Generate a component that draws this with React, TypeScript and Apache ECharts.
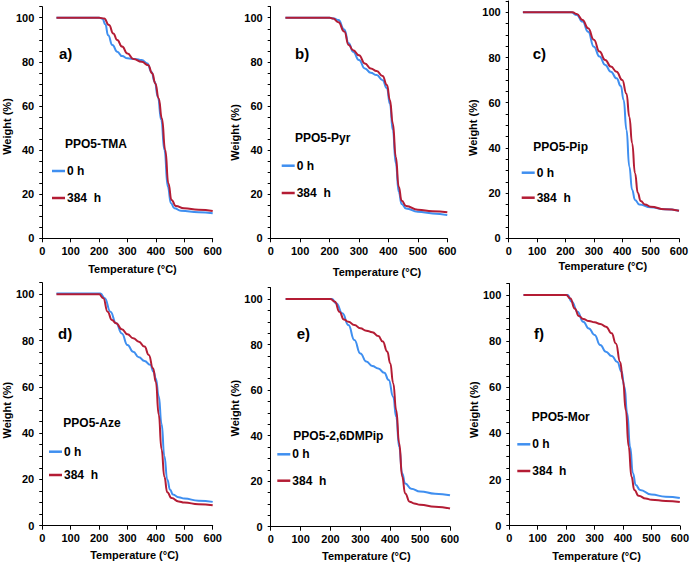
import React, { useEffect, useRef } from "react";
import * as echarts from "echarts";

// ---------- DATA (temperature °C, weight %) ----------
const X_TICKS = [0, 100, 200, 300, 400, 500, 600];
const Y_TICKS = [0, 20, 40, 60, 80, 100];
const SERIES_NAMES = ["0 h", "384  h"];
const PANEL_LETTERS = ["a)", "b)", "c)", "d)", "e)", "f)"];
const SAMPLE_NAMES = ["PPO5-TMA", "PPO5-Pyr", "PPO5-Pip", "PPO5-Aze", "PPO5-2,6DMPip", "PPO5-Mor"];

// a) PPO5-TMA
const T_A0 = [50, 200, 212, 222, 232, 247, 264, 281, 300, 327, 350, 370, 384, 396, 407, 419, 430, 442, 453, 465, 488, 550, 600];
const W_A0 = [100, 100, 99.5, 97, 92, 87.6, 84.6, 82.6, 81.6, 81.3, 80.8, 79.3, 75.5, 71, 64, 53.6, 40, 23.4, 15.9, 13.6, 12.5, 11.8, 11.4];
const T_A384 = [50, 200, 218, 235, 250, 264, 281, 300, 321, 350, 373, 387, 398, 410, 421, 433, 444, 455, 470, 499, 550, 600];
const W_A384 = [100, 100, 99.6, 96.7, 92.9, 89.9, 86.9, 83.8, 81.3, 80, 78.5, 74.8, 70.2, 63.4, 54.4, 40, 24.9, 17.4, 14.7, 13.6, 13, 12.4];

// b) PPO5-Pyr
const T_B0 = [50, 200, 215, 230, 250, 265, 280, 300, 320, 340, 360, 380, 395, 405, 415, 425, 435, 445, 460, 500, 550, 600];
const W_B0 = [100, 100, 99.6, 99, 94.7, 88.4, 84.6, 80.8, 77, 75, 74, 71.7, 68, 61, 49, 34, 21, 15.5, 13.5, 12, 11.3, 10.5];
const T_B384 = [50, 200, 212, 230, 250, 265, 280, 300, 320, 340, 360, 380, 395, 405, 415, 425, 435, 445, 460, 500, 550, 600];
const W_B384 = [100, 100, 99.6, 98, 93.7, 87.6, 85.3, 83, 79.3, 77, 75.8, 73.6, 69.5, 62.7, 52, 37, 23.4, 17, 14.6, 13, 12.3, 11.8];

// c) PPO5-Pip
const T_C0 = [50, 220, 240, 260, 280, 300, 320, 340, 360, 380, 395, 405, 415, 425, 435, 445, 460, 500, 550, 600];
const W_C0 = [100, 100, 98.8, 95.9, 91.4, 84.8, 80.4, 76.7, 73.7, 70.8, 67.4, 61.2, 48, 31.7, 21.4, 17, 15, 13.7, 12.8, 12.2];
const T_C384 = [50, 225, 240, 260, 280, 300, 320, 340, 360, 380, 400, 415, 425, 435, 445, 455, 465, 480, 500, 550, 600];
const W_C384 = [100, 100, 99.2, 96.6, 92.9, 87.8, 82.6, 78.9, 76, 73.7, 70, 64, 53.8, 42, 28.8, 20, 16.5, 15, 14, 12.8, 12.2];

// d) PPO5-Aze
const T_D0 = [50, 205, 220, 240, 260, 280, 300, 320, 340, 360, 380, 392, 400, 410, 420, 430, 440, 450, 460, 480, 500, 550, 600];
const W_D0 = [100.3, 100.3, 98.3, 92.5, 87.5, 83.1, 78.1, 75.2, 72.8, 71.2, 69.5, 66.5, 63.5, 56, 44, 30, 20, 15.5, 13.5, 12.3, 11.7, 10.8, 10.3];
const T_D384 = [50, 200, 215, 230, 245, 260, 280, 300, 320, 340, 360, 375, 390, 400, 410, 420, 430, 440, 455, 480, 500, 550, 600];
const W_D384 = [100, 100, 98.3, 92.5, 88.9, 87.5, 84.9, 82.7, 81, 79.5, 77.4, 73.8, 68, 62, 48, 33, 21, 14.5, 12, 10.5, 10, 9.3, 8.8];

// e) PPO5-2,6DMPip
const T_E0 = [50, 205, 220, 240, 260, 280, 300, 320, 340, 360, 380, 395, 410, 420, 430, 440, 450, 470, 500, 550, 600];
const W_E0 = [100, 100, 98, 93.7, 88.6, 82, 76.1, 72.5, 70.6, 69.5, 67.6, 64.4, 57, 48.3, 35, 23.4, 19, 16.7, 15.5, 14.5, 13.8];
const T_E384 = [50, 200, 215, 230, 245, 260, 280, 300, 320, 340, 360, 375, 390, 400, 410, 420, 430, 440, 450, 465, 480, 500, 550, 600];
const W_E384 = [100, 100, 98.8, 94.4, 91, 90, 88.6, 87.1, 86.1, 85.4, 83.7, 81.3, 76.9, 71.8, 63, 51.2, 36.6, 22, 14.6, 11, 10.2, 9.6, 8.8, 8.0];

// f) PPO5-Mor
const T_F0 = [50, 205, 220, 240, 260, 280, 300, 320, 340, 360, 380, 395, 405, 415, 425, 435, 445, 460, 500, 550, 600];
const W_F0 = [100, 100, 97.1, 92.8, 88.4, 85.5, 82.7, 78.3, 75.4, 73.6, 71, 66.8, 60.3, 48.7, 34.3, 22.7, 17.6, 15.5, 13.5, 12.6, 12.0];
const T_F384 = [50, 200, 215, 230, 245, 260, 280, 300, 320, 340, 360, 375, 390, 400, 410, 420, 430, 440, 455, 480, 500, 550, 600];
const W_F384 = [100, 100, 98.5, 94.2, 90.9, 89.6, 88.7, 88.2, 87.4, 86.3, 83.4, 79, 71, 63, 50, 34.3, 21.2, 15.5, 13, 11.8, 11.3, 10.7, 10.3];

const CURVES_0 = [[T_A0, W_A0], [T_B0, W_B0], [T_C0, W_C0], [T_D0, W_D0], [T_E0, W_E0], [T_F0, W_F0]];
const CURVES_384 = [[T_A384, W_A384], [T_B384, W_B384], [T_C384, W_C384], [T_D384, W_D384], [T_E384, W_E384], [T_F384, W_F384]];

// ---------- LAYOUT / STYLE ----------
const FONT = '"Liberation Sans", Arial, sans-serif';
const BLUE = "#3f8ff0";
const RED = "#b41c34";

// plot box (px): left, top (y=105), right (x=600), bottom (y=0)
const LAYOUT = [
  { l: 38, t: 6.7, r: 212.7, b: 238.3, yGap: 22, ySh: 4, xGap: 25, xSh: 5, letter: [59, 53], sample: [65, 144], leg: [52, 171, 198] },
  { l: 270.7, t: 6.7, r: 447.3, b: 238.3, yGap: 24, ySh: 10, xGap: 28, xSh: 18, letter: [295, 53], sample: [295, 138], leg: [281.7, 165.7, 193] },
  { l: 508.7, t: 1.0, r: 679, b: 238.3, yGap: 27, ySh: 8, xGap: 22, xSh: 9, letter: [532.7, 53], sample: [533.3, 146.7], leg: [521.7, 172.7, 197.7] },
  { l: 38.3, t: 282.7, r: 212.7, b: 525.7, yGap: 27, ySh: 6, xGap: 24, xSh: 7, letter: [58, 333], sample: [63.3, 423.3], leg: [49, 451.7, 475] },
  { l: 270.7, t: 287.6, r: 450, b: 526.7, yGap: 22, ySh: 1, xGap: 24, xSh: 6, letter: [296.7, 333], sample: [293.3, 436], leg: [277.3, 454.3, 480.7] },
  { l: 509.3, t: 283.5, r: 681, b: 525.7, yGap: 29, ySh: 5, xGap: 25, xSh: 2, letter: [534, 333], sample: [531.7, 417.3], leg: [517.3, 444.3, 471] },
];

function buildOption() {
  const grid: any[] = [];
  const xAxis: any[] = [];
  const yAxis: any[] = [];
  const series: any[] = [];
  const legend: any[] = [];
  const graphic: any[] = [];
  const axisText = { color: "#000", fontSize: 11, fontWeight: "bold", fontFamily: FONT };

  LAYOUT.forEach((p, i) => {
    grid.push({ left: p.l, top: p.t, width: p.r - p.l, height: p.b - p.t, containLabel: false });
    xAxis.push({
      type: "value",
      gridIndex: i,
      min: X_TICKS[0],
      max: X_TICKS[X_TICKS.length - 1],
      interval: X_TICKS[1] - X_TICKS[0],
      name: "Temperature (°C)",
      nameLocation: "middle",
      nameGap: p.xGap,
      nameTextStyle: { ...axisText, padding: [0, 0, 0, p.xSh * 2] },
      axisLine: { show: true, onZero: false, lineStyle: { color: "#000", width: 1 } },
      axisTick: { show: true, length: 4, lineStyle: { color: "#000" } },
      axisLabel: { ...axisText, margin: 7 },
      splitLine: { show: false },
    });
    yAxis.push({
      type: "value",
      gridIndex: i,
      min: 0,
      max: 105,
      interval: 5,
      name: "Weight (%)",
      nameLocation: "middle",
      nameRotate: 90,
      nameGap: p.yGap,
      nameTextStyle: { ...axisText, padding: [0, p.ySh * 2, 0, 0] },
      axisLine: { show: true, onZero: false, lineStyle: { color: "#000", width: 1 } },
      axisTick: { show: true, length: 3, lineStyle: { color: "#000" } },
      axisLabel: {
        ...axisText,
        margin: 8,
        formatter: (v: number) => (Y_TICKS.indexOf(v) >= 0 ? String(v) : ""),
      },
      splitLine: { show: false },
    });
    const [t0, w0] = CURVES_0[i];
    const [t1, w1] = CURVES_384[i];
    const common = {
      type: "line",
      xAxisIndex: i,
      yAxisIndex: i,
      showSymbol: false,
      symbol: "none",
      smooth: 0.5,
      smoothMonotone: "x",
      silent: true,
    };
    series.push({ ...common, name: SERIES_NAMES[0], data: t0.map((t, k) => [t, w0[k]]), lineStyle: { color: BLUE, width: 2 }, itemStyle: { color: BLUE }, z: 2 });
    series.push({ ...common, name: SERIES_NAMES[1], data: t1.map((t, k) => [t, w1[k]]), lineStyle: { color: RED, width: 2 }, itemStyle: { color: RED }, z: 3 });

    legend.push({
      left: p.leg[0],
      top: p.leg[1] - 6,
      orient: "vertical",
      icon: "rect",
      itemWidth: 13,
      itemHeight: 2.5,
      itemGap: p.leg[2] - p.leg[1] - 12,
      selectedMode: false,
      padding: 0,
      data: SERIES_NAMES,
      textStyle: { color: "#000", fontSize: 12, fontWeight: "bold", fontFamily: FONT, padding: [0, 0, 0, -3] },
    });

    graphic.push({
      type: "text",
      x: p.letter[0],
      y: p.letter[1],
      style: { text: PANEL_LETTERS[i], font: `bold 15px ${FONT}`, fill: "#000", verticalAlign: "middle" },
    });
    graphic.push({
      type: "text",
      x: p.sample[0],
      y: p.sample[1],
      style: { text: SAMPLE_NAMES[i], font: `bold 12px ${FONT}`, fill: "#000", verticalAlign: "middle" },
    });
  });

  return { animation: false, backgroundColor: "#fff", grid, xAxis, yAxis, series, legend, graphic };
}

export default function App() {
  const ref = useRef<HTMLDivElement>(null);
  useEffect(() => {
    if (!ref.current) return;
    const chart = echarts.init(ref.current, undefined, { renderer: "svg" });
    chart.setOption(buildOption() as any);
    return () => chart.dispose();
  }, []);
  return (
    <div
      ref={ref}
      style={{ position: "fixed", left: 0, top: 0, width: 692, height: 566, background: "#fff" }}
    />
  );
}
